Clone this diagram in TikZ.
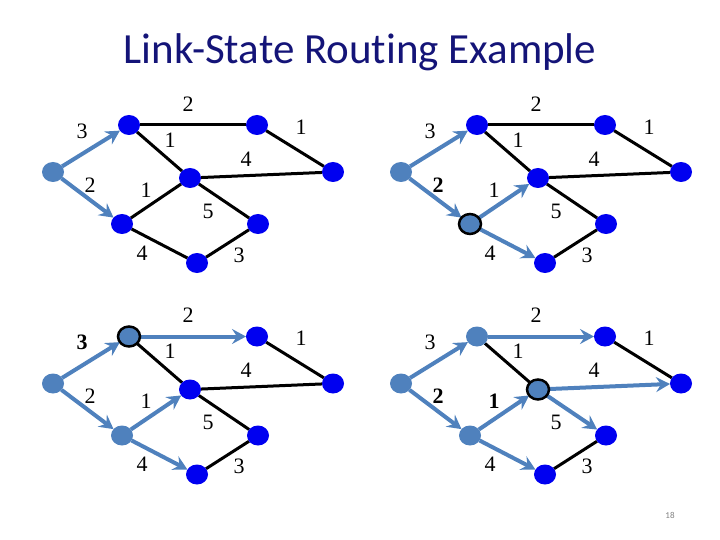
\documentclass[tikz,border=0pt]{standalone}
\usepackage{fontspec}
\setmainfont{Liberation Serif}
\newfontfamily\calibri[Ligatures=NoCommon]{Carlito}
\usetikzlibrary{arrows.meta,shapes.geometric,backgrounds}
\definecolor{nodeblue}{RGB}{0,0,240}
\definecolor{steel}{RGB}{79,129,189}
\definecolor{titleblue}{RGB}{20,20,120}
\tikzset{
 rt/.style={ellipse, minimum width=22pt, minimum height=20pt, inner sep=0pt, outer sep=0pt, fill=nodeblue},
 rtdone/.style={rt, fill=steel},
 rtcur/.style={rt, fill=steel, draw=black, line width=2.5pt},
 blk/.style={draw=black, line width=3pt},
 sp/.style={draw=steel, line width=4pt, -{Stealth[length=14pt,width=15pt,inset=5pt]}},
 wt/.style={font=\fontsize{22}{22}\selectfont, inner sep=0pt},
}
\newcommand\rtnodes[9]{%
 \node[#2] (#1S) at (53,172) {};
 \node[#3] (#1A) at (129,125) {};
 \node[#4] (#1B) at (257,125) {};
 \node[#5] (#1C) at (333,172) {};
 \node[#6] (#1D) at (190,178) {};
 \node[#7] (#1E) at (122,224) {};
 \node[#8] (#1F) at (258,224) {};
 \node[#9] (#1G) at (197,263) {};
}
\newcommand\rtlabels[4]{% #1 prefix, #2 S-A font, #3 S-E font, #4 E-D font
 \node[wt] (#1lab) at (188,104) {2};
 \node[wt] (#1lbc) at (301,127) {1};
 \node[wt] (#1lsa) at (82,131) {#23};
 \node[wt] (#1lad) at (170,140) {1};
 \node[wt] (#1ldc) at (246,159) {4};
 \node[wt] (#1lse) at (90,185) {#32};
 \node[wt] (#1led) at (146,190) {#41};
 \node[wt] (#1ldf) at (208,211) {5};
 \node[wt] (#1leg) at (142,253) {4};
 \node[wt] (#1lgf) at (239,255) {3};
}
\begin{document}
\begin{tikzpicture}[x=1pt,y=-1pt]
\useasboundingbox (0,0) rectangle (720,540);
\node[font=\calibri\fontsize{43}{43}\selectfont, text=titleblue, anchor=base, inner sep=0pt] (title) at (360,64) {Link-State Routing Example};
\node[font=\calibri\fontsize{9}{9}\selectfont, text=gray, inner sep=0pt] (num) at (670,515) {18};
% panel 1
\begin{scope}
 \rtnodes{p}{rtdone}{rt}{rt}{rt}{rt}{rt}{rt}{rt}
 \rtlabels{p}{}{}{}
 \begin{scope}[on background layer]
  \draw[blk] (pA) -- (pB);
  \draw[blk] (pB) -- (pC);
  \draw[blk] (pA) -- (pD);
  \draw[blk] (pD) -- (pC);
  \draw[blk] (pE) -- (pD);
  \draw[blk] (pD) -- (pF);
  \draw[blk] (pE) -- (pG);
  \draw[blk] (pG) -- (pF);
  \draw[sp] (pS) -- (pA);
  \draw[sp] (pS) -- (pE);
 \end{scope}
\end{scope}
% panel 2
\begin{scope}[shift={(348,0)}]
 \rtnodes{q}{rtdone}{rt}{rt}{rt}{rt}{rtcur}{rt}{rt}
 \rtlabels{q}{}{\bfseries}{}
 \begin{scope}[on background layer]
  \draw[blk] (qA) -- (qB);
  \draw[blk] (qB) -- (qC);
  \draw[blk] (qA) -- (qD);
  \draw[blk] (qD) -- (qC);
  \draw[blk] (qD) -- (qF);
  \draw[blk] (qG) -- (qF);
  \draw[sp] (qS) -- (qA);
  \draw[sp] (qS) -- (qE);
  \draw[sp] (qE) -- (qD);
  \draw[sp] (qE) -- (qG);
 \end{scope}
\end{scope}
% panel 3
\begin{scope}[shift={(0,211.5)}]
 \rtnodes{r}{rtdone}{rtcur}{rt}{rt}{rt}{rtdone}{rt}{rt}
 \rtlabels{r}{\bfseries}{}{}
 \begin{scope}[on background layer]
  \draw[blk] (rB) -- (rC);
  \draw[blk] (rA) -- (rD);
  \draw[blk] (rD) -- (rC);
  \draw[blk] (rD) -- (rF);
  \draw[blk] (rG) -- (rF);
  \draw[sp] (rS) -- (rA);
  \draw[sp] (rS) -- (rE);
  \draw[sp] (rE) -- (rD);
  \draw[sp] (rE) -- (rG);
  \draw[sp] (rA) -- (rB);
 \end{scope}
\end{scope}
% panel 4
\begin{scope}[shift={(348,211.5)}]
 \rtnodes{s}{rtdone}{rtdone}{rt}{rt}{rtcur}{rtdone}{rt}{rt}
 \rtlabels{s}{}{\bfseries}{\bfseries}
 \begin{scope}[on background layer]
  \draw[blk] (sA) -- (sD);
  \draw[blk] (sB) -- (sC);
  \draw[blk] (sG) -- (sF);
  \draw[sp] (sS) -- (sA);
  \draw[sp] (sS) -- (sE);
  \draw[sp] (sE) -- (sD);
  \draw[sp] (sE) -- (sG);
  \draw[sp] (sA) -- (sB);
  \draw[sp] (sD) -- (sC);
  \draw[sp] (sD) -- (sF);
 \end{scope}
\end{scope}
\end{tikzpicture}
\end{document}
